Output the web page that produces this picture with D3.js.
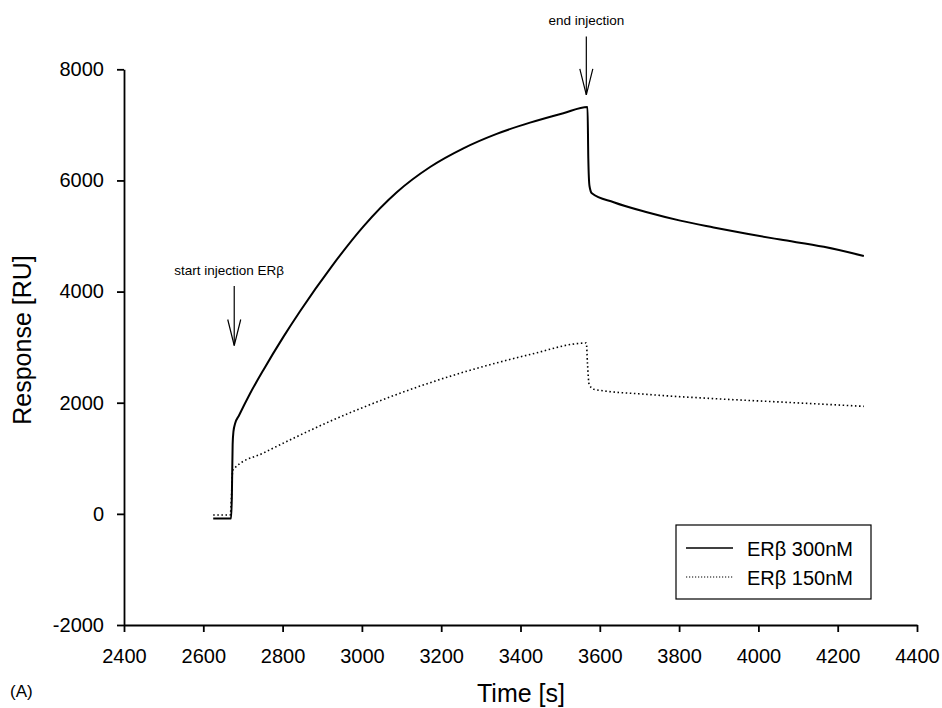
<!DOCTYPE html>
<html>
<head>
<meta charset="utf-8">
<script src="https://cdn.jsdelivr.net/npm/d3@7"></script>
<style>
    body { margin: 0; background: #fff; }
    #chart text { font-family: "Liberation Sans", Arial, sans-serif; fill: #000; }
</style>
</head>
<body>
<div id="chart"></div>
<script>
// time [s], response [RU]
var erb300 = [
    [2625, -85], [2670, -85], [2672, 300], [2674, 1250], [2676, 1480], [2680, 1620],
    [2690, 1770], [2718, 2166], [2752, 2595], [2802, 3185], [2844, 3647], [2924, 4455],
    [3004, 5175], [3088, 5788], [3172, 6242], [3256, 6578], [3340, 6838], [3424, 7040],
    [3508, 7210], [3569, 7322], [3571, 6400], [3574, 5900], [3580, 5768], [3635, 5607],
    [3719, 5427], [3803, 5277], [3887, 5155], [3971, 5040], [4055, 4936], [4165, 4805],
    [4266, 4640]
];
var erb150 = [
    [2625, -20], [2668, -20], [2671, 300], [2674, 780], [2680, 830], [2752, 1096],
    [2836, 1390], [2920, 1667], [3004, 1919], [3088, 2150], [3172, 2360], [3256, 2549],
    [3340, 2717], [3424, 2868], [3566, 3074], [3569, 2700], [3573, 2330], [3585, 2241],
    [3719, 2150], [3887, 2074], [4055, 2013], [4266, 1935]
];
var seriesNames = ["ER\u03b2 300nM", "ER\u03b2 150nM"];
var xTicks = [2400, 2600, 2800, 3000, 3200, 3400, 3600, 3800, 4000, 4200, 4400];
var yTicks = [-2000, 0, 2000, 4000, 6000, 8000];
var notes = [
    { label: "start injection ER\u03b2", t: 2678, top: 4100, tip: 3030, textAt: 4307, dx: -5 },
    { label: "end injection", t: 3566, top: 8590, tip: 7540, textAt: 8800, dx: 0 }
];

var width = 942, height = 708;
var x = d3.scaleLinear().domain([2400, 4400]).range([124, 917]);
var y = d3.scaleLinear().domain([-2000, 8000]).range([625, 69.3]);

var svg = d3.select("#chart").append("svg")
    .attr("width", width)
    .attr("height", height);

var line = d3.line()
    .x(function(d) { return x(d[0]); })
    .y(function(d) { return y(d[1]); })
    .curve(d3.curveMonotoneX);

function plain(d) { return String(d); }

// axes
var xAxis = svg.append("g")
    .attr("transform", "translate(0," + y(-2000) + ")")
    .call(d3.axisBottom(x).tickValues(xTicks).tickFormat(plain)
        .tickSize(7).tickSizeOuter(0).tickPadding(17));
var yAxis = svg.append("g")
    .attr("transform", "translate(" + x(2400) + ",0)")
    .call(d3.axisLeft(y).tickValues(yTicks).tickFormat(plain)
        .tickSize(7).tickSizeOuter(0).tickPadding(13));
[xAxis, yAxis].forEach(function(a) {
    a.selectAll("path, line").attr("stroke", "#000").attr("stroke-width", 1.8);
    a.selectAll("text").attr("font-size", 20);
});

svg.append("text")
    .attr("x", 521).attr("y", 702)
    .attr("text-anchor", "middle")
    .attr("font-size", 25)
    .text("Time [s]");
svg.append("text")
    .attr("transform", "translate(31,340) rotate(-90)")
    .attr("text-anchor", "middle")
    .attr("font-size", 25)
    .text("Response [RU]");
svg.append("text")
    .attr("x", 10).attr("y", 697)
    .attr("font-size", 17)
    .text("(A)");

// curves
svg.append("path")
    .datum(erb300)
    .attr("d", line)
    .attr("fill", "none")
    .attr("stroke", "#000")
    .attr("stroke-width", 2);
svg.append("path")
    .datum(erb150)
    .attr("d", line)
    .attr("fill", "none")
    .attr("stroke", "#000")
    .attr("stroke-width", 1.6)
    .attr("stroke-dasharray", "1.5,2.6");

// injection arrows
notes.forEach(function(n) {
    var cx = x(n.t), y0 = y(n.top), y1 = y(n.tip);
    var g = svg.append("g").attr("stroke", "#000").attr("stroke-width", 1.2).attr("fill", "none");
    g.append("line").attr("x1", cx).attr("x2", cx).attr("y1", y0).attr("y2", y1);
    g.append("path").attr("d", "M" + (cx - 6.5) + "," + (y1 - 26) + "L" + cx + "," + y1 + "L" + (cx + 6.5) + "," + (y1 - 26));
    svg.append("text")
        .attr("x", cx + n.dx).attr("y", y(n.textAt))
        .attr("text-anchor", "middle")
        .attr("font-size", 13.5)
        .text(n.label);
});

// legend
var legend = svg.append("g").attr("transform", "translate(676,525)");
legend.append("rect")
    .attr("width", 195).attr("height", 74)
    .attr("fill", "#fff")
    .attr("stroke", "#000")
    .attr("stroke-width", 1.2);
seriesNames.forEach(function(name, i) {
    legend.append("line")
        .attr("x1", 10).attr("x2", 57)
        .attr("y1", 23 + i * 29).attr("y2", 23 + i * 29)
        .attr("stroke", "#000")
        .attr("stroke-width", i === 0 ? 1.6 : 1.2)
        .attr("stroke-dasharray", i === 0 ? null : "1.2,1.8");
    legend.append("text")
        .attr("x", 71).attr("y", 31 + i * 29)
        .attr("font-size", 20)
        .text(name);
});
</script>
</body>
</html>
